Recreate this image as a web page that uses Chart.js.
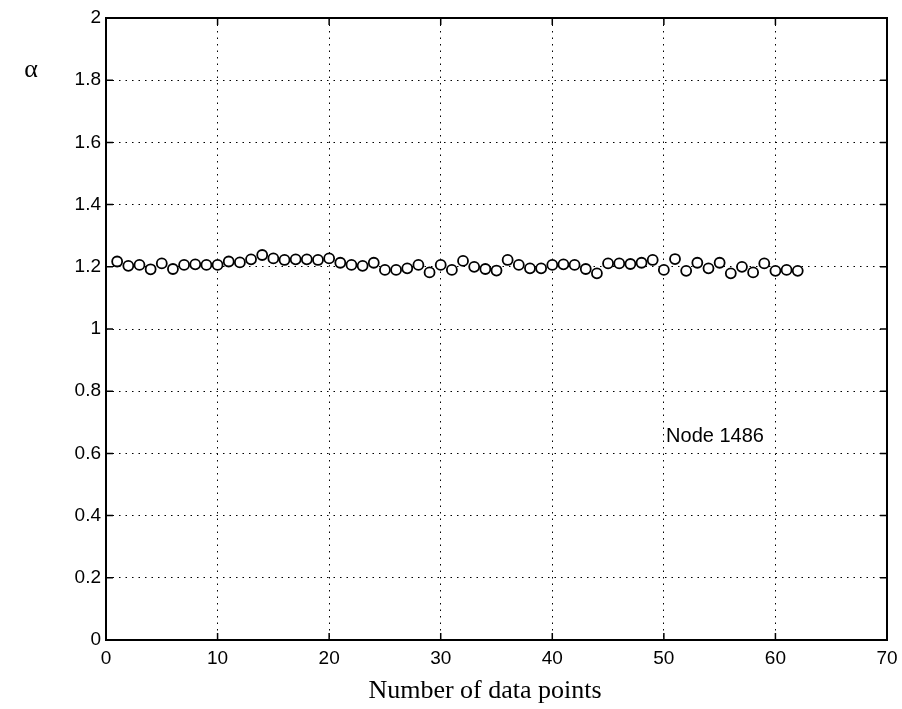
<!DOCTYPE html>
<html>
<head>
<meta charset="utf-8">
<script src="https://cdn.jsdelivr.net/npm/chart.js@4/dist/chart.umd.min.js"></script>
<style>
  html, body { margin: 0; padding: 0; background: #fff; }
  canvas { display: block; }
</style>
</head>
<body>
<canvas id="chart" width="902" height="709"></canvas>
<script>
// alpha values, one per data point (1..62)
const alphaValues = [
  1.217, 1.203, 1.206, 1.192, 1.211, 1.193, 1.206, 1.208, 1.206, 1.206,
  1.217, 1.214, 1.224, 1.238, 1.227, 1.222, 1.224, 1.224, 1.222, 1.227,
  1.213, 1.206, 1.203, 1.213, 1.190, 1.190, 1.195, 1.206, 1.182, 1.206,
  1.190, 1.219, 1.200, 1.193, 1.188, 1.222, 1.206, 1.195, 1.195, 1.206,
  1.208, 1.206, 1.193, 1.179, 1.211, 1.211, 1.209, 1.213, 1.222, 1.190,
  1.225, 1.187, 1.213, 1.195, 1.213, 1.179, 1.200, 1.182, 1.211, 1.187,
  1.190, 1.187
];
const pointIndex = alphaValues.map((v, i) => i + 1);

const xTicks = [0, 10, 20, 30, 40, 50, 60, 70];
const yTickLabels = ["0", "0.2", "0.4", "0.6", "0.8", "1", "1.2", "1.4", "1.6", "1.8", "2"];

const xTitle = "Number of data points";
const yTitle = "\u03b1";
const nodeLabel = "Node 1486";
const nodeLabelPos = { x: 50.2, y: 0.655 };

const sansFont = "'Liberation Sans', Arial, sans-serif";
const serifFont = "'Liberation Serif', 'Times New Roman', serif";

// frame, inward ticks and text annotations
const framePlugin = {
  id: "frame",
  afterDraw(chart) {
    const { ctx, chartArea: a, scales } = chart;
    const x = scales.x, y = scales.y;
    ctx.save();
    ctx.strokeStyle = "#000";
    ctx.lineWidth = 2;
    ctx.setLineDash([]);
    ctx.strokeRect(a.left, a.top, a.right - a.left, a.bottom - a.top);

    ctx.lineWidth = 1.5;
    ctx.beginPath();
    xTicks.forEach((t) => {
      const px = x.getPixelForValue(t);
      ctx.moveTo(px, a.bottom); ctx.lineTo(px, a.bottom - 7);
      ctx.moveTo(px, a.top); ctx.lineTo(px, a.top + 7);
    });
    yTickLabels.forEach((t) => {
      const py = y.getPixelForValue(parseFloat(t));
      ctx.moveTo(a.left, py); ctx.lineTo(a.left + 7, py);
      ctx.moveTo(a.right, py); ctx.lineTo(a.right - 7, py);
    });
    ctx.stroke();

    ctx.fillStyle = "#000";
    ctx.font = "20px " + sansFont;
    ctx.textAlign = "left";
    ctx.textBaseline = "middle";
    ctx.fillText(nodeLabel, x.getPixelForValue(nodeLabelPos.x), y.getPixelForValue(nodeLabelPos.y));

    ctx.font = "26px " + serifFont;
    ctx.textAlign = "center";
    ctx.fillText(yTitle, 31, 70);
    ctx.fillText(xTitle, 485, 691);
    ctx.restore();
  }
};

const gridStyle = {
  color: "#000",
  lineWidth: 1,
  drawTicks: false,
};

new Chart(document.getElementById("chart").getContext("2d"), {
  type: "scatter",
  data: {
    datasets: [
      {
        label: "alpha",
        data: pointIndex.map((n, i) => ({ x: n, y: alphaValues[i] })),
        showLine: false,
        pointStyle: "circle",
        pointRadius: 5,
        pointBorderWidth: 1.8,
        borderColor: "#000",
        backgroundColor: "#fff",
      },
    ],
  },
  options: {
    responsive: false,
    animation: false,
    layout: { padding: { top: 18, right: 15, left: 0, bottom: 0 } },
    plugins: { legend: { display: false }, tooltip: { enabled: false } },
    scales: {
      x: {
        type: "linear",
        min: 0,
        max: 70,
        afterFit: (s) => { s.height = 69; s.paddingRight = 0; s.paddingLeft = 0; },
        afterBuildTicks: (s) => { s.ticks = xTicks.map((v) => ({ value: v })); },
        grid: gridStyle,
        border: { display: false, dash: [1.5, 5] },
        ticks: {
          color: "#000",
          padding: 7,
          font: { family: sansFont, size: 19 },
        },
      },
      y: {
        type: "linear",
        min: 0,
        max: 2,
        afterFit: (s) => { s.width = 106; s.paddingTop = 0; s.paddingBottom = 0; },
        afterBuildTicks: (s) => { s.ticks = yTickLabels.map((v) => ({ value: parseFloat(v) })); },
        grid: gridStyle,
        border: { display: false, dash: [1.5, 5] },
        ticks: {
          color: "#000",
          padding: 5,
          font: { family: sansFont, size: 19 },
          callback: (v) => yTickLabels.find((t) => parseFloat(t) === v) ?? "",
        },
      },
    },
  },
  plugins: [framePlugin],
});
</script>
</body>
</html>
